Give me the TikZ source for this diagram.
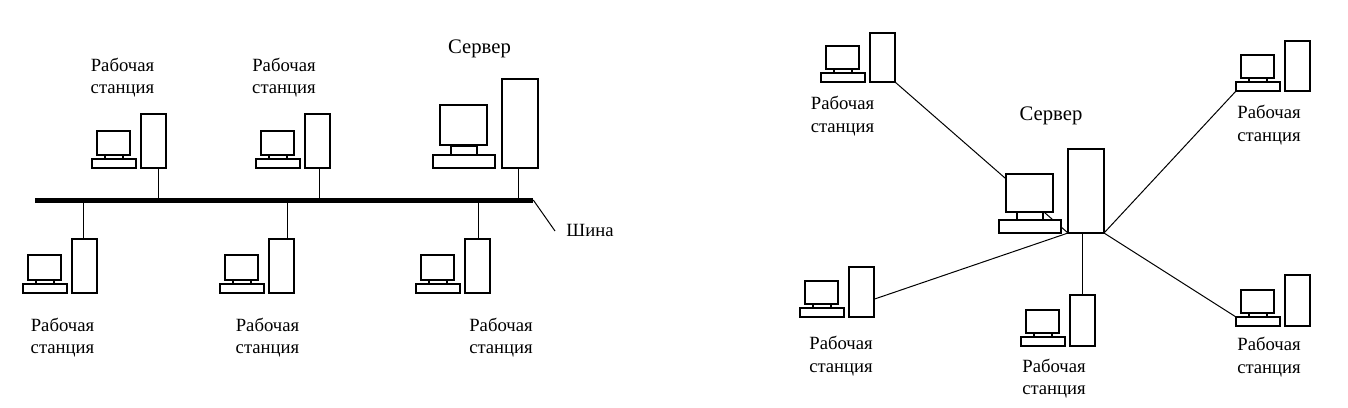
\documentclass[tikz,border=0pt]{standalone}
\usepackage{fontspec}
\setmainfont{Liberation Serif}
\usetikzlibrary{backgrounds}
\newcommand{\px}{0.75pt}

\begin{document}
\begin{tikzpicture}[
    x=0.75pt,y=-0.75pt,
    part/.style={rectangle,draw=black,fill=white,line width=1.4pt,inner sep=0pt,outer sep=0pt,anchor=south west},
    wire/.style={draw=black,line width=0.75pt},
    label/.style={align=center,inner sep=0pt,font=\fontsize{14}{17}\selectfont},
    title/.style={inner sep=0pt,font=\fontsize{15.5}{18}\selectfont},
    % tower height, monitor height
    pics/station/.style 2 args={code={
        \node[part,minimum width=25*\px,minimum height=#1*\px] (-tower) at (0,0) {};
        \node[part,minimum width=18*\px,minimum height=5*\px] (-neck) at (-36,-9) {};
        \node[part,minimum width=33*\px,minimum height=#2*\px] (-monitor) at (-44,-13) {};
        \node[part,minimum width=44*\px,minimum height=9*\px] (-kbd) at (-49,0) {};
    }},
    pics/server/.style 2 args={code={
        \node[part,minimum width=36*\px,minimum height=#1*\px] (-tower) at (0,0) {};
        \node[part,minimum width=26*\px,minimum height=9*\px] (-neck) at (-51,-13) {};
        \node[part,minimum width=47*\px,minimum height=#2*\px] (-monitor) at (-62,{17-#2}) {};
        \node[part,minimum width=62*\px,minimum height=13*\px] (-kbd) at (-69,0) {};
    }}
]
\useasboundingbox (0,0) rectangle (1348,407);

%--------------------------------------------------------------------
% Left: bus
%--------------------------------------------------------------------
\node[rectangle,fill=black,inner sep=0pt,minimum width=498*\px,minimum height=5*\px] (bus) at (284,200) {};

\pic (up1) at (141,168) {station={54}{24}};
\pic (up2) at (305,168) {station={54}{24}};
\pic (srv) at (502,168) {server={89}{40}};
\pic (low1) at (72,293) {station={54}{25}};
\pic (low2) at (269,293) {station={54}{25}};
\pic (low3) at (465,293) {station={54}{25}};

\node[label] (lup1) at (122.5,77.5) {Рабочая\\станция};
\node[label] (lup2) at (284,77.5) {Рабочая\\станция};
\node[title] (lsrv) at (479.5,49) {Сервер};
\node[label] (llow1) at (62.5,337.5) {Рабочая\\станция};
\node[label] (llow2) at (267.5,337.5) {Рабочая\\станция};
\node[label] (llow3) at (501,337.5) {Рабочая\\станция};
\node[label] (lbus) at (590,230) {Шина};

\foreach \ws/\tap in {up1/158,up2/319,srv/518}
    \draw[wire] (\ws-tower.south -| \tap,0) -- (\tap,0 |- bus.center);
\foreach \ws/\tap in {low1/83,low2/287,low3/478}
    \draw[wire] (\ws-tower.north -| \tap,0) -- (\tap,0 |- bus.center);

\coordinate (leader) at (555,231);
\draw[wire] (bus.east) -- (leader);

%--------------------------------------------------------------------
% Right: star
%--------------------------------------------------------------------
\pic (hub) at (1068,233) {server={84}{38}};
\pic (st1) at (870,82) {station={49}{23}};
\pic (st2) at (1285,91) {station={50}{23}};
\pic (st3) at (849,317) {station={50}{23}};
\pic (st4) at (1070,346) {station={51}{23}};
\pic (st5) at (1285,326) {station={51}{23}};

\node[title] (lhub) at (1051,116) {Сервер};
\node[label] (lst1) at (842.5,116) {Рабочая\\станция};
\node[label] (lst2) at (1269,125) {Рабочая\\станция};
\node[label] (lst3) at (841,356) {Рабочая\\станция};
\node[label] (lst4) at (1054,378.5) {Рабочая\\станция};
\node[label] (lst5) at (1269,357) {Рабочая\\станция};

\begin{scope}[on background layer]
  \draw[wire] (st1-tower.south east) -- (hub-tower.south west);
  \draw[wire] (st2-kbd.south west) -- (hub-tower.south east);
  \draw[wire] (st3-tower.-30) -- (hub-tower.south west);
  \draw[wire] (st4-tower.north) -- (st4-tower.north |- hub-tower.south);
  \draw[wire] (st5-kbd.north west) -- (hub-tower.south east);
\end{scope}

\end{tikzpicture}
\end{document}
